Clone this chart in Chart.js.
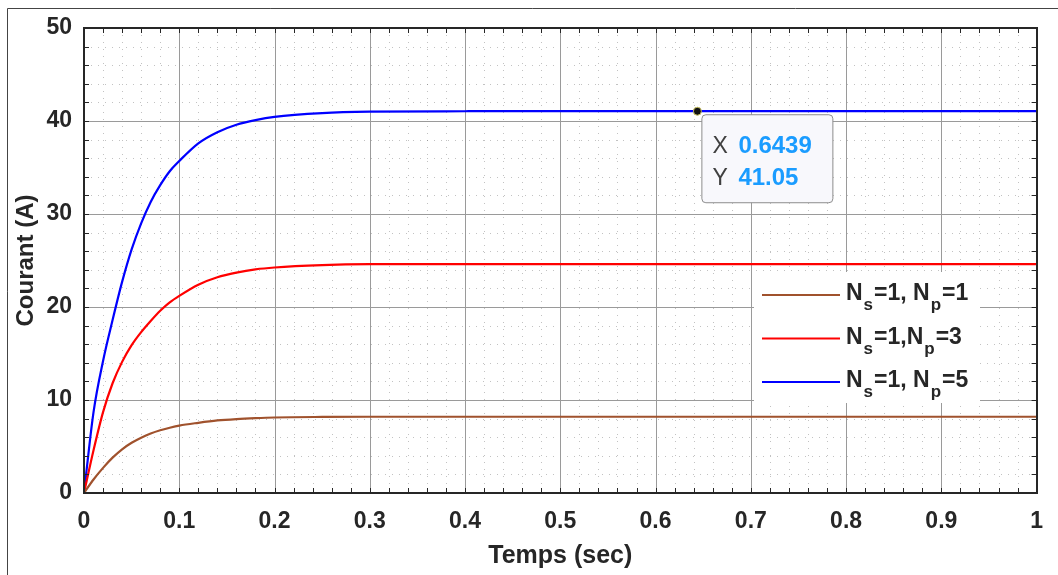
<!DOCTYPE html>
<html>
<head>
<meta charset="utf-8">
<script src="https://cdn.jsdelivr.net/npm/chart.js@4"></script>
<style>
    html, body { margin: 0; padding: 0; background: #ffffff; }
    #wrap { width: 1058px; height: 575px; position: relative; }
</style>
</head>
<body>
<div id="wrap"><canvas id="courantChart"></canvas></div>
<script>
// temps (s) and courant (A)
const temps = [0, 0.01, 0.02, 0.03, 0.04, 0.05, 0.06, 0.07, 0.08, 0.09, 0.10,
    0.12, 0.14, 0.16, 0.18, 0.20, 0.25, 0.30, 0.40, 0.50, 0.60, 0.70, 0.80, 0.90, 1.00];
const courantNp1 = [0, 1.45, 2.7, 3.8, 4.7, 5.4, 5.95, 6.4, 6.75, 7.02, 7.25,
    7.55, 7.8, 7.95, 8.05, 8.12, 8.18, 8.2, 8.2, 8.2, 8.2, 8.2, 8.2, 8.2, 8.2];
const courantNp3 = [0, 4.6, 8.7, 11.8, 14.1, 15.9, 17.3, 18.5, 19.6, 20.5, 21.2,
    22.4, 23.2, 23.7, 24.05, 24.25, 24.5, 24.6, 24.62, 24.62, 24.62, 24.62, 24.62, 24.62, 24.62];
const courantNp5 = [0, 8.7, 14.2, 18.6, 22.7, 26.2, 29.0, 31.3, 33.1, 34.6, 35.7,
    37.6, 38.8, 39.6, 40.1, 40.45, 40.85, 41.0, 41.05, 41.07, 41.07, 41.07, 41.07, 41.07, 41.07];

const seriesLabels = [
    [["N", ""], ["s", "sub"], ["=1, N", ""], ["p", "sub"], ["=1", ""]],
    [["N", ""], ["s", "sub"], ["=1,N", ""], ["p", "sub"], ["=3", ""]],
    [["N", ""], ["s", "sub"], ["=1, N", ""], ["p", "sub"], ["=5", ""]]
];
const seriesColors = ["#a0522d", "#ff0000", "#0000ff"];
const xTicks = [0, 0.1, 0.2, 0.3, 0.4, 0.5, 0.6, 0.7, 0.8, 0.9, 1];
const yTicks = [0, 10, 20, 30, 40, 50];
const datatip = { x: 0.6439, y: 41.05 };

const FONT = "'Liberation Sans', Arial, Helvetica, sans-serif";
const AXIS_COLOR = "#262626";

function toPoints(values) {
    return temps.map(function (t, i) { return { x: t, y: values[i] }; });
}

// grid, box, inner ticks, legend, datatip and the outer frame
const matlabLook = {
    id: "matlabLook",
    beforeDatasetsDraw: function (chart) {
        const ctx = chart.ctx;
        const a = chart.chartArea;
        const xs = chart.scales.x;
        const ys = chart.scales.y;
        ctx.save();
        // minor dotted grid
        ctx.strokeStyle = "rgba(80,80,80,0.35)";
        ctx.lineWidth = 1;
        ctx.setLineDash([1, 6]);
        for (let i = 1; i < 50; i++) {
            if (i % 5 === 0) continue;
            const px = Math.round(xs.getPixelForValue(i / 50)) + 0.5;
            ctx.beginPath(); ctx.moveTo(px, a.top); ctx.lineTo(px, a.bottom); ctx.stroke();
        }
        for (let j = 1; j < 25; j++) {
            if (j % 5 === 0) continue;
            const py = Math.round(ys.getPixelForValue(j * 2)) + 0.5;
            ctx.beginPath(); ctx.moveTo(a.left, py); ctx.lineTo(a.right, py); ctx.stroke();
        }
        // major grid
        ctx.setLineDash([]);
        ctx.strokeStyle = "#9a9a9a";
        xTicks.forEach(function (v) {
            const px = Math.round(xs.getPixelForValue(v)) + 0.5;
            ctx.beginPath(); ctx.moveTo(px, a.top); ctx.lineTo(px, a.bottom); ctx.stroke();
        });
        yTicks.forEach(function (v) {
            const py = Math.round(ys.getPixelForValue(v)) + 0.5;
            ctx.beginPath(); ctx.moveTo(a.left, py); ctx.lineTo(a.right, py); ctx.stroke();
        });
        ctx.restore();
    },
    afterDatasetsDraw: function (chart) {
        const ctx = chart.ctx;
        const a = chart.chartArea;
        const xs = chart.scales.x;
        const ys = chart.scales.y;
        ctx.save();
        // box + inward ticks on four sides
        ctx.strokeStyle = AXIS_COLOR;
        ctx.lineWidth = 1;
        for (let i = 0; i <= 50; i++) {
            const px = Math.round(xs.getPixelForValue(i / 50)) + 0.5;
            ctx.beginPath();
            ctx.moveTo(px, a.bottom); ctx.lineTo(px, a.bottom - 5);
            ctx.moveTo(px, a.top); ctx.lineTo(px, a.top + 5);
            ctx.stroke();
        }
        for (let j = 0; j <= 25; j++) {
            const py = Math.round(ys.getPixelForValue(j * 2)) + 0.5;
            ctx.beginPath();
            ctx.moveTo(a.left, py); ctx.lineTo(a.left + 5, py);
            ctx.moveTo(a.right, py); ctx.lineTo(a.right - 5, py);
            ctx.stroke();
        }
        ctx.lineWidth = 2;
        ctx.strokeRect(Math.round(a.left), Math.round(a.top), Math.round(a.right - a.left), Math.round(a.bottom - a.top));

        // legend
        const lx = 754, ly = 272, lw = 226, lh = 131;
        ctx.fillStyle = "#ffffff";
        ctx.fillRect(lx, ly, lw, lh);
        const rowY = [295, 338.5, 382];
        rowY.forEach(function (y, k) {
            ctx.strokeStyle = seriesColors[k];
            ctx.lineWidth = 2;
            ctx.beginPath(); ctx.moveTo(762, y); ctx.lineTo(840, y); ctx.stroke();
            let tx = 846;
            ctx.fillStyle = AXIS_COLOR;
            ctx.textBaseline = "alphabetic";
            ctx.textAlign = "left";
            seriesLabels[k].forEach(function (part) {
                if (part[1] === "sub") {
                    ctx.font = "bold 17px " + FONT;
                    ctx.fillText(part[0], tx, y + 15);
                } else {
                    ctx.font = "bold 23px " + FONT;
                    ctx.fillText(part[0], tx, y + 5);
                }
                tx += ctx.measureText(part[0]).width + 1;
            });
        });

        // datatip
        const mx = xs.getPixelForValue(datatip.x);
        const my = ys.getPixelForValue(datatip.y);
        const bx = mx + 4, by = my + 3, bw = 131, bh = 88;
        ctx.fillStyle = "#f8f8fc";
        ctx.strokeStyle = "#8c8c8c";
        ctx.lineWidth = 1;
        ctx.beginPath();
        ctx.roundRect(bx + 0.5, by + 0.5, bw, bh, 4);
        ctx.fill();
        ctx.stroke();
        ctx.textBaseline = "middle";
        ctx.textAlign = "left";
        ctx.fillStyle = "#404040";
        ctx.font = "23px " + FONT;
        ctx.fillText("X", bx + 11, by + 32);
        ctx.fillText("Y", bx + 11, by + 64);
        ctx.fillStyle = "#1a9cff";
        ctx.font = "bold 24px " + FONT;
        ctx.fillText(datatip.x.toFixed(4), bx + 37, by + 32);
        ctx.fillText(datatip.y.toFixed(2), bx + 37, by + 64);
        ctx.fillStyle = "#111111";
        ctx.strokeStyle = "#c8c060";
        ctx.beginPath();
        ctx.arc(mx, my, 4, 0, Math.PI * 2);
        ctx.fill();
        ctx.stroke();
        ctx.restore();
    },
    afterDraw: function (chart) {
        const ctx = chart.ctx;
        ctx.save();
        ctx.strokeStyle = "#444444";
        ctx.lineWidth = 1;
        ctx.beginPath();
        ctx.moveTo(7.5, 575); ctx.lineTo(7.5, 8.5); ctx.lineTo(1058, 8.5);
        ctx.stroke();
        ctx.restore();
    }
};

function makeSet(values, color) {
    return {
        data: toPoints(values),
        borderColor: color,
        backgroundColor: color,
        borderWidth: 2.2,
        pointRadius: 0,
        cubicInterpolationMode: "monotone",
        fill: false
    };
}

new Chart(document.getElementById("courantChart"), {
    type: "line",
    data: {
        datasets: [
            makeSet(courantNp1, seriesColors[0]),
            makeSet(courantNp3, seriesColors[1]),
            makeSet(courantNp5, seriesColors[2])
        ]
    },
    plugins: [matlabLook],
    options: {
        responsive: true,
        maintainAspectRatio: false,
        animation: false,
        layout: { padding: { left: 0, top: 28, right: 20, bottom: 0 } },
        plugins: {
            legend: { display: false },
            tooltip: { enabled: false }
        },
        scales: {
            x: {
                type: "linear",
                min: 0,
                max: 1,
                afterFit: function (scale) { scale.height = 82; },
                afterBuildTicks: function (scale) {
                    scale.ticks = xTicks.map(function (v) { return { value: v }; });
                },
                grid: { display: false, drawTicks: false },
                border: { display: false },
                ticks: {
                    padding: 15,
                    maxRotation: 0,
                    autoSkip: false,
                    color: AXIS_COLOR,
                    font: { family: FONT, size: 23, weight: "bold" },
                    callback: function (v) { return String(Math.round(v * 10) / 10); }
                },
                title: {
                    display: true,
                    text: "Temps (sec)",
                    color: AXIS_COLOR,
                    padding: { top: 0, bottom: 4 },
                    font: { family: FONT, size: 25, weight: "bold" }
                }
            },
            y: {
                min: 0,
                max: 50,
                afterFit: function (scale) { scale.width = 84; },
                afterBuildTicks: function (scale) {
                    scale.ticks = yTicks.map(function (v) { return { value: v }; });
                },
                grid: { display: false, drawTicks: false },
                border: { display: false },
                ticks: {
                    padding: 12,
                    color: AXIS_COLOR,
                    font: { family: FONT, size: 23, weight: "bold" }
                },
                title: {
                    display: true,
                    text: "Courant (A)",
                    color: AXIS_COLOR,
                    padding: { top: 12, bottom: 0 },
                    font: { family: FONT, size: 24, weight: "bold" }
                }
            }
        }
    }
});
</script>
</body>
</html>
